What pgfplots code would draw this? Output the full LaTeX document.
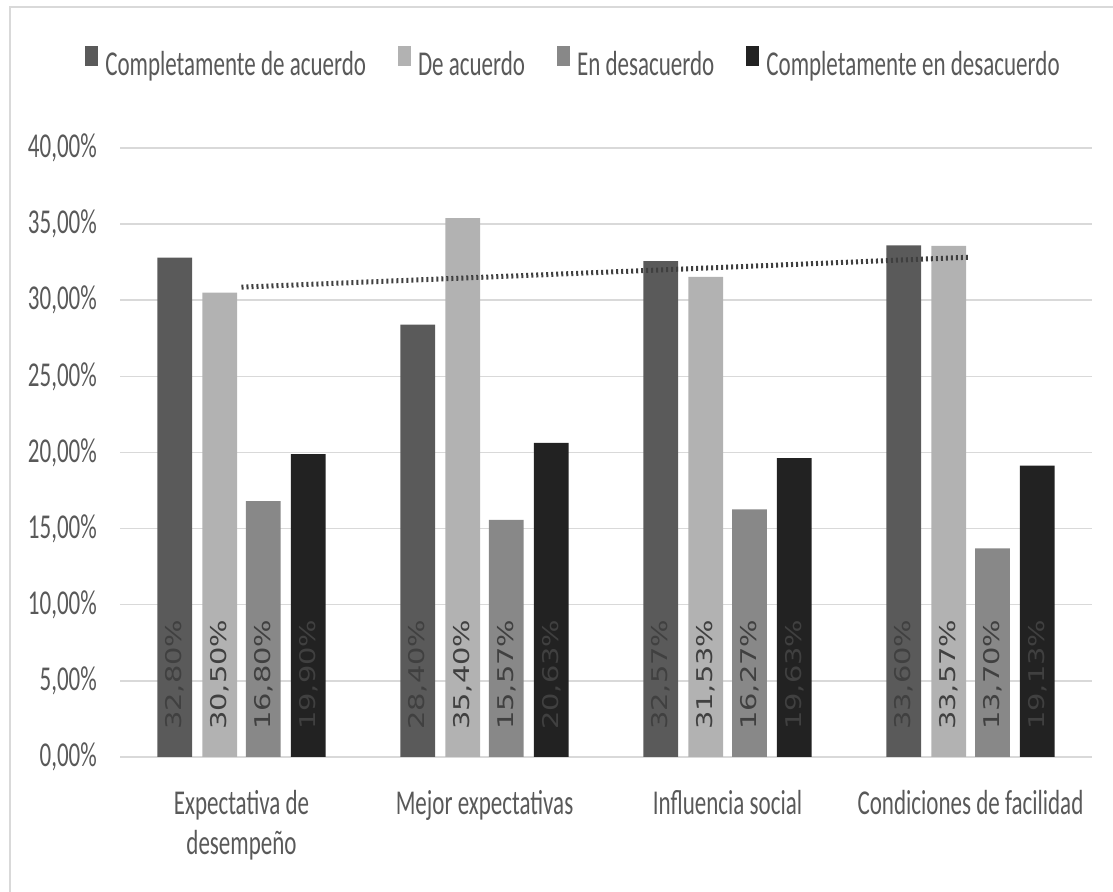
\documentclass[border=0pt]{standalone}
\usepackage{pgfplots}
\pgfplotsset{compat=1.18}
\usepackage{fontspec}
\setmainfont{Carlito}[FakeStretch=0.66]
\newfontfamily\labelfont{DejaVu Sans}
\definecolor{sA}{HTML}{5A5A5A}
\definecolor{sB}{HTML}{B2B2B2}
\definecolor{sC}{HTML}{888888}
\definecolor{sD}{HTML}{222222}
\definecolor{lbl}{HTML}{404040}
\definecolor{txt}{HTML}{595959}
\definecolor{grid}{HTML}{D9D9D9}
\definecolor{trend}{HTML}{3F3F3F}
\begin{document}
\begin{tikzpicture}
\path[use as bounding box] (0,0) rectangle (1113bp,892bp);
\draw[color=grid, line width=1.5bp] (10bp,0) -- (10bp,885bp) -- (1113bp,885bp);
\begin{axis}[
  at={(120bp,135bp)}, anchor=south west,
  scale only axis, width=972bp, height=609bp,
  xmin=-0.5, xmax=3.5, ymin=0, ymax=40,
  ytick={0,5,...,40},
  xtick={0,1,2,3},
  xticklabels={Expectativa de\\desempeño, Mejor expectativas, Influencia social, Condiciones de facilidad},
  /pgf/number format/assume math mode=true,
  yticklabel={\pgfmathprintnumber[fixed,fixed zerofill,precision=2,use comma]{\tick}\%},
  tick label style={font=\fontsize{35}{40}\selectfont, text=txt},
  xticklabel style={align=center, inner sep=0pt, yshift=-33bp},
  yticklabel style={inner sep=0pt, xshift=-23bp},
  major tick length=0pt,
  axis line style={draw=none},
  ymajorgrids, major grid style={color=grid, line width=1.5bp},
  legend columns=4,
  legend style={draw=none, at={(0.466,1.141)}, anchor=center,
    font=\fontsize{35}{40}\selectfont, text=txt, nodes={inner sep=1bp},
    /tikz/every even column/.append style={column sep=31bp},
    /tikz/every odd column/.append style={column sep=6bp}},
  legend image code/.code={\fill[#1] (0bp,-2bp) rectangle (13bp,18bp);},
  every node near coord/.append style={rotate=90, anchor=west, inner sep=0pt, text=lbl, font=\labelfont\fontsize{29}{30}\selectfont},
]
\addplot[ybar, bar width=0.143, bar shift=0pt, fill=sA, draw=none] coordinates {(-0.275,32.80) (0.725,28.40) (1.725,32.57) (2.725,33.60)};
\addlegendentry{Completamente de acuerdo}
\addplot[ybar, bar width=0.143, bar shift=0pt, fill=sB, draw=none] coordinates {(-0.09,30.50) (0.91,35.40) (1.91,31.53) (2.91,33.57)};
\addlegendentry{De acuerdo}
\addplot[ybar, bar width=0.143, bar shift=0pt, fill=sC, draw=none] coordinates {(0.09,16.80) (1.09,15.57) (2.09,16.27) (3.09,13.70)};
\addlegendentry{En desacuerdo}
\addplot[ybar, bar width=0.143, bar shift=0pt, fill=sD, draw=none] coordinates {(0.275,19.90) (1.275,20.63) (2.275,19.63) (3.275,19.13)};
\addlegendentry{Completamente en desacuerdo}
\addplot[forget plot, draw=trend, line width=5bp, dash pattern=on 2bp off 3bp] coordinates {(0,30.86) (3,32.83)};
\addplot[forget plot, draw=none, point meta=explicit, nodes near coords={\scalebox{1}[0.75]{\pgfmathprintnumber[fixed,fixed zerofill,precision=2,use comma]{\pgfplotspointmeta}\%}}] coordinates {(-0.275,1.77) [32.80] (0.725,1.77) [28.40] (1.725,1.77) [32.57] (2.725,1.77) [33.60]};
\addplot[forget plot, draw=none, point meta=explicit, nodes near coords={\scalebox{1}[0.75]{\pgfmathprintnumber[fixed,fixed zerofill,precision=2,use comma]{\pgfplotspointmeta}\%}}] coordinates {(-0.09,1.77) [30.50] (0.91,1.77) [35.40] (1.91,1.77) [31.53] (2.91,1.77) [33.57]};
\addplot[forget plot, draw=none, point meta=explicit, nodes near coords={\scalebox{1}[0.75]{\pgfmathprintnumber[fixed,fixed zerofill,precision=2,use comma]{\pgfplotspointmeta}\%}}] coordinates {(0.09,1.77) [16.80] (1.09,1.77) [15.57] (2.09,1.77) [16.27] (3.09,1.77) [13.70]};
\addplot[forget plot, draw=none, point meta=explicit, nodes near coords={\scalebox{1}[0.75]{\pgfmathprintnumber[fixed,fixed zerofill,precision=2,use comma]{\pgfplotspointmeta}\%}}] coordinates {(0.275,1.77) [19.90] (1.275,1.77) [20.63] (2.275,1.77) [19.63] (3.275,1.77) [19.13]};
\end{axis}
\end{tikzpicture}
\end{document}
